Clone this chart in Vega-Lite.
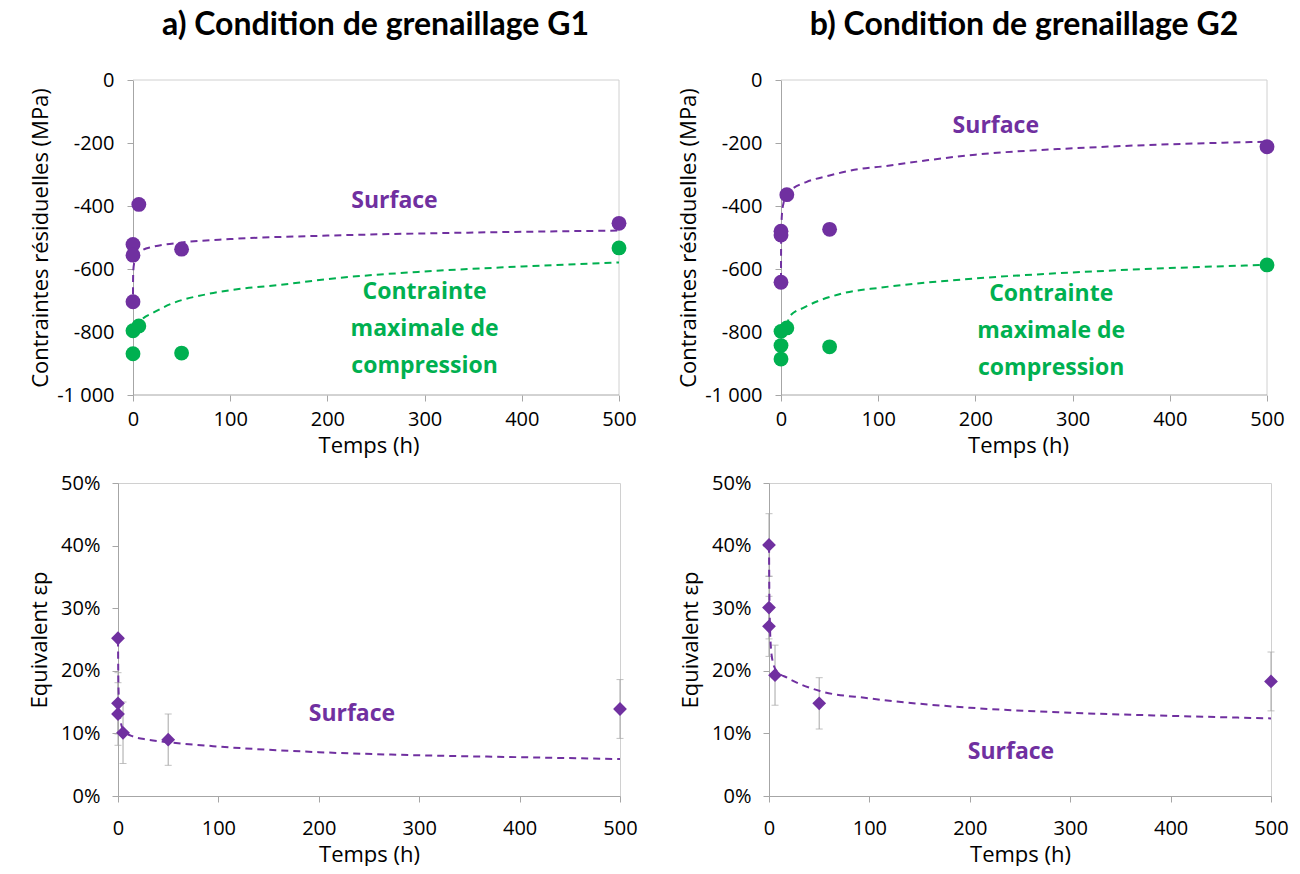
{
  "$schema": "https://vega.github.io/schema/vega-lite/v6.json",
  "background": "white",
  "padding": {"left": 28, "top": 9, "right": 5, "bottom": 0},
  "datasets": {
    "g1": [
      {"t": 0, "v": -522, "s": "Surface"},
      {"t": 0, "v": -556, "s": "Surface"},
      {"t": 0, "v": -704, "s": "Surface"},
      {"t": 6, "v": -395, "s": "Surface"},
      {"t": 50, "v": -537, "s": "Surface"},
      {"t": 500, "v": -455, "s": "Surface"},
      {"t": 0, "v": -796, "s": "Contrainte"},
      {"t": 6, "v": -781, "s": "Contrainte"},
      {"t": 0, "v": -869, "s": "Contrainte"},
      {"t": 50, "v": -867, "s": "Contrainte"},
      {"t": 500, "v": -533, "s": "Contrainte"}
    ],
    "g1fit": [
      {"t": 0.01, "v": -680, "s": "Surface"},
      {"t": 0.05, "v": -645, "s": "Surface"},
      {"t": 0.2, "v": -615, "s": "Surface"},
      {"t": 0.5, "v": -598, "s": "Surface"},
      {"t": 1, "v": -585, "s": "Surface"},
      {"t": 2, "v": -572, "s": "Surface"},
      {"t": 5, "v": -553, "s": "Surface"},
      {"t": 10, "v": -540, "s": "Surface"},
      {"t": 20, "v": -530, "s": "Surface"},
      {"t": 50, "v": -516, "s": "Surface"},
      {"t": 100, "v": -505, "s": "Surface"},
      {"t": 200, "v": -494, "s": "Surface"},
      {"t": 300, "v": -487, "s": "Surface"},
      {"t": 400, "v": -482, "s": "Surface"},
      {"t": 500, "v": -478, "s": "Surface"},
      {"t": 3, "v": -788, "s": "Contrainte"},
      {"t": 5, "v": -777, "s": "Contrainte"},
      {"t": 10, "v": -758, "s": "Contrainte"},
      {"t": 20, "v": -740, "s": "Contrainte"},
      {"t": 39, "v": -711, "s": "Contrainte"},
      {"t": 76, "v": -680, "s": "Contrainte"},
      {"t": 113, "v": -662, "s": "Contrainte"},
      {"t": 150, "v": -651, "s": "Contrainte"},
      {"t": 200, "v": -632, "s": "Contrainte"},
      {"t": 300, "v": -608, "s": "Contrainte"},
      {"t": 400, "v": -592, "s": "Contrainte"},
      {"t": 500, "v": -579, "s": "Contrainte"}
    ],
    "g2": [
      {"t": 0, "v": -480, "s": "Surface"},
      {"t": 0, "v": -492, "s": "Surface"},
      {"t": 0, "v": -642, "s": "Surface"},
      {"t": 6, "v": -364, "s": "Surface"},
      {"t": 50, "v": -474, "s": "Surface"},
      {"t": 500, "v": -212, "s": "Surface"},
      {"t": 0, "v": -798, "s": "Contrainte"},
      {"t": 6, "v": -787, "s": "Contrainte"},
      {"t": 0, "v": -843, "s": "Contrainte"},
      {"t": 0, "v": -886, "s": "Contrainte"},
      {"t": 50, "v": -847, "s": "Contrainte"},
      {"t": 500, "v": -587, "s": "Contrainte"}
    ],
    "g2fit": [
      {"t": 0.01, "v": -635, "s": "Surface"},
      {"t": 0.03, "v": -585, "s": "Surface"},
      {"t": 0.1, "v": -530, "s": "Surface"},
      {"t": 0.3, "v": -480, "s": "Surface"},
      {"t": 1, "v": -425, "s": "Surface"},
      {"t": 3, "v": -385, "s": "Surface"},
      {"t": 6, "v": -362, "s": "Surface"},
      {"t": 12, "v": -345, "s": "Surface"},
      {"t": 26, "v": -324, "s": "Surface"},
      {"t": 50, "v": -303, "s": "Surface"},
      {"t": 80, "v": -283, "s": "Surface"},
      {"t": 103, "v": -275, "s": "Surface"},
      {"t": 150, "v": -255, "s": "Surface"},
      {"t": 200, "v": -237, "s": "Surface"},
      {"t": 300, "v": -217, "s": "Surface"},
      {"t": 400, "v": -204, "s": "Surface"},
      {"t": 500, "v": -196, "s": "Surface"},
      {"t": 6, "v": -782, "s": "Contrainte"},
      {"t": 9, "v": -750, "s": "Contrainte"},
      {"t": 24, "v": -722, "s": "Contrainte"},
      {"t": 64, "v": -677, "s": "Contrainte"},
      {"t": 103, "v": -659, "s": "Contrainte"},
      {"t": 200, "v": -630, "s": "Contrainte"},
      {"t": 300, "v": -611, "s": "Contrainte"},
      {"t": 400, "v": -597, "s": "Contrainte"},
      {"t": 500, "v": -587, "s": "Contrainte"}
    ],
    "e1": [
      {"t": 0, "v": 25.2},
      {"t": 0, "v": 14.8, "lo": 9.9, "hi": 19.7},
      {"t": 0, "v": 13.1, "lo": 8.1, "hi": 18.1},
      {"t": 5, "v": 10.1, "lo": 5.2, "hi": 15.0},
      {"t": 50, "v": 9.0, "lo": 4.9, "hi": 13.1},
      {"t": 500, "v": 13.9, "lo": 9.2, "hi": 18.6}
    ],
    "e1fit": [
      {"t": 0.05, "v": 25},
      {"t": 0.3, "v": 19},
      {"t": 1, "v": 15},
      {"t": 2, "v": 12.8},
      {"t": 4, "v": 11},
      {"t": 8, "v": 10.1},
      {"t": 15, "v": 9.5},
      {"t": 30, "v": 9.0},
      {"t": 50, "v": 8.6},
      {"t": 100, "v": 7.9},
      {"t": 200, "v": 7.0},
      {"t": 300, "v": 6.5},
      {"t": 400, "v": 6.2},
      {"t": 500, "v": 5.9}
    ],
    "e2": [
      {"t": 0, "v": 40.1, "lo": 35.1, "hi": 45.1},
      {"t": 0, "v": 30.1, "lo": 25.1, "hi": 35.1},
      {"t": 0, "v": 27.1, "lo": 22.3, "hi": 31.9},
      {"t": 6, "v": 19.3, "lo": 14.5, "hi": 24.1},
      {"t": 50, "v": 14.8, "lo": 10.7, "hi": 18.9},
      {"t": 500, "v": 18.3, "lo": 13.6, "hi": 23.0}
    ],
    "e2fit": [
      {"t": 0.05, "v": 40},
      {"t": 0.3, "v": 33},
      {"t": 1, "v": 27},
      {"t": 2, "v": 23.5},
      {"t": 4, "v": 21.3},
      {"t": 8, "v": 19.9},
      {"t": 18, "v": 18.9},
      {"t": 50, "v": 16.8},
      {"t": 100, "v": 15.6},
      {"t": 200, "v": 14.1},
      {"t": 300, "v": 13.3},
      {"t": 400, "v": 12.8},
      {"t": 500, "v": 12.4}
    ]
  },
  "spacing": 16,
  "vconcat": [
    {
      "spacing": 40,
      "hconcat": [
        {
          "title": {"text": "a) Condition de grenaillage G1", "frame": "group", "anchor": "middle", "offset": 28, "dx": 7},
          "width": 501,
          "height": 315,
          "view": {"stroke": null},
          "layer": [
            {
              "data": {"values": [{}]},
              "mark": {"type": "rule", "color": "#d0d0d0", "strokeWidth": 1},
              "encoding": {
                "x": {"datum": 0, "type": "quantitative", "scale": {"domain": [-15.43, 500], "nice": false, "zero": false}, "axis": {"title": "Temps (h)", "values": [0, 100, 200, 300, 400, 500], "labelPadding": 8, "titlePadding": 6, "domain": false}},
                "x2": {"datum": 500},
                "y": {"datum": 0, "type": "quantitative", "scale": {"domain": [-1000, 0], "nice": false}, "axis": {"title": "Contraintes résiduelles (MPa)", "values": [-1000, -800, -600, -400, -200, 0], "offset": -15, "labelPadding": 13, "titlePadding": 4, "labelExpr": "(datum.value < 0 ? '-' : '') + replace(format(abs(datum.value), ','), ',', ' ')"}}
              }
            },
            {
              "data": {"values": [{}]},
              "mark": {"type": "rule", "color": "#d0d0d0", "strokeWidth": 1},
              "encoding": {"x": {"datum": 500}, "y": {"datum": -1000}, "y2": {"datum": 0}}
            },
            {
              "data": {"values": [{}]},
              "mark": {"type": "rule", "color": "#a6a6a6", "strokeWidth": 1},
              "encoding": {"x": {"datum": 0}, "x2": {"datum": 500}, "y": {"datum": -1000}}
            },
            {
              "data": {"name": "g1fit"},
              "mark": {"type": "line", "strokeDash": [7, 5], "strokeWidth": 2, "interpolate": "monotone"},
              "encoding": {
                "x": {"field": "t", "type": "quantitative"},
                "y": {"field": "v", "type": "quantitative"},
                "color": {"field": "s", "type": "nominal", "scale": {"domain": ["Surface", "Contrainte"], "range": ["#7030A0", "#00B050"]}, "legend": null}
              }
            },
            {
              "data": {"name": "g1"},
              "mark": {"type": "circle", "size": 220, "opacity": 1},
              "encoding": {
                "x": {"field": "t", "type": "quantitative"},
                "y": {"field": "v", "type": "quantitative"},
                "color": {"field": "s", "type": "nominal", "legend": null}
              }
            },
            {
              "data": {"values": [{}]},
              "mark": {"type": "text", "text": "Surface", "font": "Open Sans", "fontSize": 23, "fontWeight": "bold", "color": "#7030A0"},
              "encoding": {"x": {"datum": 269}, "y": {"datum": -384}}
            },
            {
              "data": {"values": [{}]},
              "mark": {"type": "text", "text": ["Contrainte", "maximale de", "compression"], "lineHeight": 37, "font": "Open Sans", "fontSize": 23, "fontWeight": "bold", "color": "#00B050"},
              "encoding": {"x": {"datum": 300}, "y": {"datum": -672}}
            }
          ]
        },
        {
          "title": {"text": "b) Condition de grenaillage G2", "frame": "group", "anchor": "middle", "offset": 28, "dx": 6},
          "width": 498,
          "height": 315,
          "view": {"stroke": null},
          "layer": [
            {
              "data": {"values": [{}]},
              "mark": {"type": "rule", "color": "#d0d0d0", "strokeWidth": 1},
              "encoding": {
                "x": {"datum": 0, "type": "quantitative", "scale": {"domain": [-12.35, 500], "nice": false, "zero": false}, "axis": {"title": "Temps (h)", "values": [0, 100, 200, 300, 400, 500], "labelPadding": 8, "titlePadding": 6, "domain": false}},
                "x2": {"datum": 500},
                "y": {"datum": 0, "type": "quantitative", "scale": {"domain": [-1000, 0], "nice": false}, "axis": {"title": "Contraintes résiduelles (MPa)", "values": [-1000, -800, -600, -400, -200, 0], "offset": -12, "labelPadding": 13, "titlePadding": 4, "labelExpr": "(datum.value < 0 ? '-' : '') + replace(format(abs(datum.value), ','), ',', ' ')"}}
              }
            },
            {
              "data": {"values": [{}]},
              "mark": {"type": "rule", "color": "#d0d0d0", "strokeWidth": 1},
              "encoding": {"x": {"datum": 500}, "y": {"datum": -1000}, "y2": {"datum": 0}}
            },
            {
              "data": {"values": [{}]},
              "mark": {"type": "rule", "color": "#a6a6a6", "strokeWidth": 1},
              "encoding": {"x": {"datum": 0}, "x2": {"datum": 500}, "y": {"datum": -1000}}
            },
            {
              "data": {"name": "g2fit"},
              "mark": {"type": "line", "strokeDash": [7, 5], "strokeWidth": 2, "interpolate": "monotone"},
              "encoding": {
                "x": {"field": "t", "type": "quantitative"},
                "y": {"field": "v", "type": "quantitative"},
                "color": {"field": "s", "type": "nominal", "scale": {"domain": ["Surface", "Contrainte"], "range": ["#7030A0", "#00B050"]}, "legend": null}
              }
            },
            {
              "data": {"name": "g2"},
              "mark": {"type": "circle", "size": 220, "opacity": 1},
              "encoding": {
                "x": {"field": "t", "type": "quantitative"},
                "y": {"field": "v", "type": "quantitative"},
                "color": {"field": "s", "type": "nominal", "legend": null}
              }
            },
            {
              "data": {"values": [{}]},
              "mark": {"type": "text", "text": "Surface", "font": "Open Sans", "fontSize": 23, "fontWeight": "bold", "color": "#7030A0"},
              "encoding": {"x": {"datum": 221}, "y": {"datum": -145}}
            },
            {
              "data": {"values": [{}]},
              "mark": {"type": "text", "text": ["Contrainte", "maximale de", "compression"], "lineHeight": 37, "font": "Open Sans", "fontSize": 23, "fontWeight": "bold", "color": "#00B050"},
              "encoding": {"x": {"datum": 278}, "y": {"datum": -679}}
            }
          ]
        }
      ]
    },
    {
      "spacing": 41,
      "hconcat": [
        {
          "width": 502,
          "height": 313,
          "layer": [
            {
              "data": {"name": "e1"},
              "transform": [{"filter": "isValid(datum.lo)"}],
              "mark": {"type": "rule", "color": "#a6a6a6", "strokeWidth": 1},
              "encoding": {
                "x": {"field": "t", "type": "quantitative", "scale": {"domain": [0, 500], "nice": false}, "axis": {"title": "Temps (h)", "values": [0, 100, 200, 300, 400, 500], "labelPadding": 16, "titlePadding": 6}},
                "y": {"field": "lo", "type": "quantitative", "scale": {"domain": [0, 50], "nice": false}, "axis": {"title": "Equivalent εp", "values": [0, 10, 20, 30, 40, 50], "labelPadding": 12, "titlePadding": 9, "labelExpr": "datum.value + '%'"}},
                "y2": {"field": "hi"}
              }
            },
            {
              "data": {"name": "e1"},
              "transform": [{"filter": "isValid(datum.lo)"}],
              "mark": {"type": "tick", "orient": "horizontal", "color": "#a6a6a6", "size": 7, "thickness": 1},
              "encoding": {"x": {"field": "t", "type": "quantitative"}, "y": {"field": "lo", "type": "quantitative"}}
            },
            {
              "data": {"name": "e1"},
              "transform": [{"filter": "isValid(datum.hi)"}],
              "mark": {"type": "tick", "orient": "horizontal", "color": "#a6a6a6", "size": 7, "thickness": 1},
              "encoding": {"x": {"field": "t", "type": "quantitative"}, "y": {"field": "hi", "type": "quantitative"}}
            },
            {
              "data": {"name": "e1fit"},
              "mark": {"type": "line", "strokeDash": [7, 5], "strokeWidth": 2, "interpolate": "monotone", "color": "#7030A0"},
              "encoding": {"x": {"field": "t", "type": "quantitative"}, "y": {"field": "v", "type": "quantitative"}}
            },
            {
              "data": {"name": "e1"},
              "mark": {"type": "point", "shape": "diamond", "filled": true, "size": 190, "opacity": 1, "color": "#7030A0"},
              "encoding": {"x": {"field": "t", "type": "quantitative"}, "y": {"field": "v", "type": "quantitative"}}
            },
            {
              "data": {"values": [{}]},
              "mark": {"type": "text", "text": "Surface", "font": "Open Sans", "fontSize": 23, "fontWeight": "bold", "color": "#7030A0"},
              "encoding": {"x": {"datum": 233}, "y": {"datum": 13.1}}
            }
          ]
        },
        {
          "width": 502,
          "height": 313,
          "layer": [
            {
              "data": {"name": "e2"},
              "transform": [{"filter": "isValid(datum.lo)"}],
              "mark": {"type": "rule", "color": "#a6a6a6", "strokeWidth": 1},
              "encoding": {
                "x": {"field": "t", "type": "quantitative", "scale": {"domain": [0, 500], "nice": false}, "axis": {"title": "Temps (h)", "values": [0, 100, 200, 300, 400, 500], "labelPadding": 16, "titlePadding": 6}},
                "y": {"field": "lo", "type": "quantitative", "scale": {"domain": [0, 50], "nice": false}, "axis": {"title": "Equivalent εp", "values": [0, 10, 20, 30, 40, 50], "labelPadding": 12, "titlePadding": 9, "labelExpr": "datum.value + '%'"}},
                "y2": {"field": "hi"}
              }
            },
            {
              "data": {"name": "e2"},
              "mark": {"type": "tick", "orient": "horizontal", "color": "#a6a6a6", "size": 7, "thickness": 1},
              "encoding": {"x": {"field": "t", "type": "quantitative"}, "y": {"field": "lo", "type": "quantitative"}}
            },
            {
              "data": {"name": "e2"},
              "mark": {"type": "tick", "orient": "horizontal", "color": "#a6a6a6", "size": 7, "thickness": 1},
              "encoding": {"x": {"field": "t", "type": "quantitative"}, "y": {"field": "hi", "type": "quantitative"}}
            },
            {
              "data": {"name": "e2fit"},
              "mark": {"type": "line", "strokeDash": [7, 5], "strokeWidth": 2, "interpolate": "monotone", "color": "#7030A0"},
              "encoding": {"x": {"field": "t", "type": "quantitative"}, "y": {"field": "v", "type": "quantitative"}}
            },
            {
              "data": {"name": "e2"},
              "mark": {"type": "point", "shape": "diamond", "filled": true, "size": 190, "opacity": 1, "color": "#7030A0"},
              "encoding": {"x": {"field": "t", "type": "quantitative"}, "y": {"field": "v", "type": "quantitative"}}
            },
            {
              "data": {"values": [{}]},
              "mark": {"type": "text", "text": "Surface", "font": "Open Sans", "fontSize": 23, "fontWeight": "bold", "color": "#7030A0"},
              "encoding": {"x": {"datum": 241}, "y": {"datum": 7.1}}
            }
          ]
        }
      ]
    }
  ],
  "config": {
    "font": "Open Sans",
    "view": {"stroke": "#d0d0d0", "strokeWidth": 1},
    "axis": {
      "labelFont": "Open Sans",
      "labelFontSize": 20,
      "labelColor": "#000000",
      "titleFont": "Open Sans",
      "titleFontSize": 22,
      "titleFontWeight": "normal",
      "titleColor": "#000000",
      "grid": false,
      "domainColor": "#a6a6a6",
      "tickColor": "#a6a6a6",
      "tickSize": 6,
      "labelOverlap": false,
      "labelFlush": false
    },
    "title": {"font": "Lato", "fontSize": 32, "fontWeight": "bold", "color": "#000000", "anchor": "middle"}
  }
}
